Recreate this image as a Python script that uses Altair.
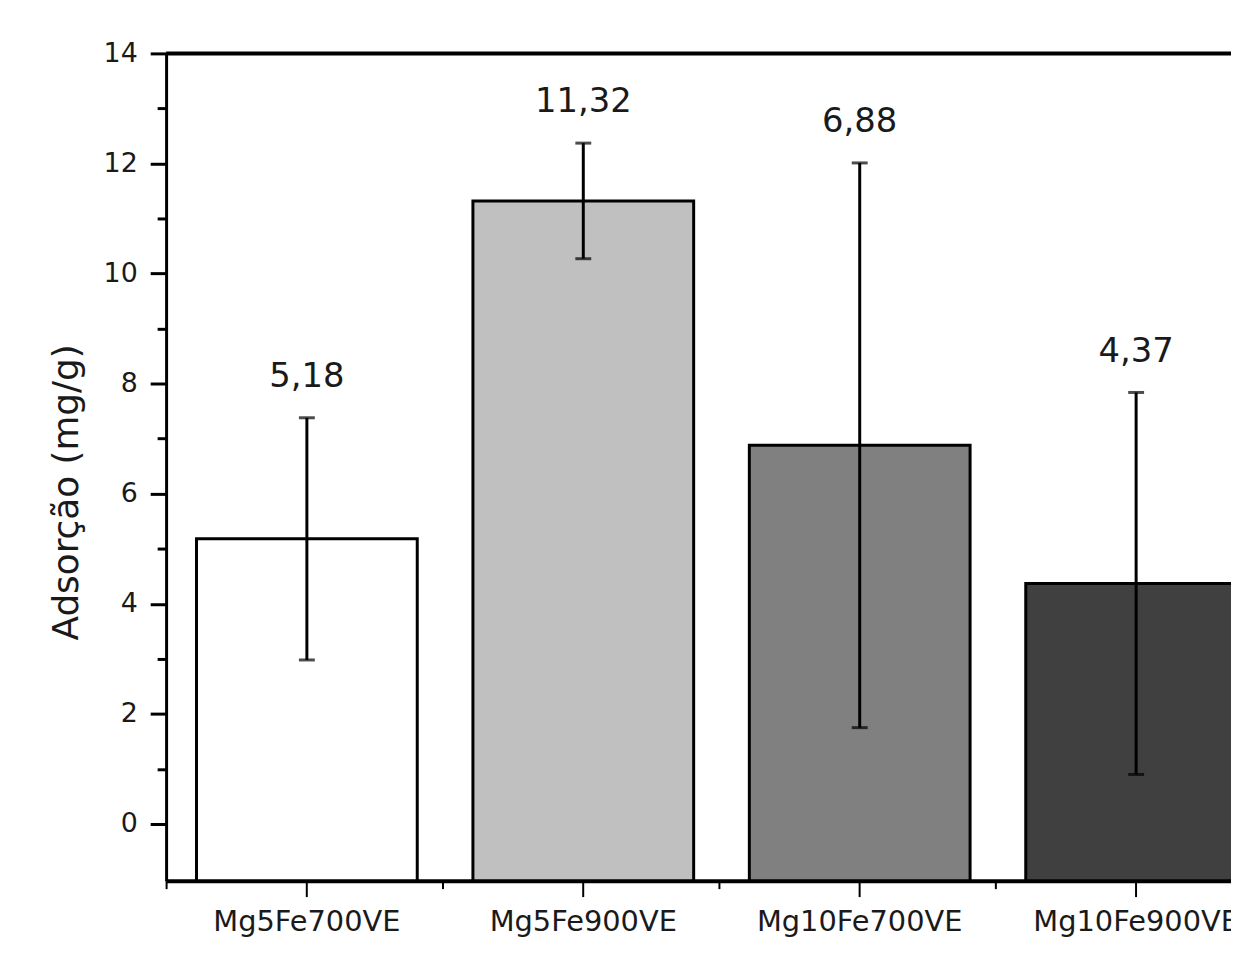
import altair as alt
import pandas as pd

categories = ["Mg5Fe700VE", "Mg5Fe900VE", "Mg10Fe700VE", "Mg10Fe900VE"]
values = [5.18, 11.32, 6.88, 4.37]
errors = [2.20, 1.05, 5.13, 3.47]
value_labels = ["5,18", "11,32", "6,88", "4,37"]
colors = ["#ffffff", "#c0c0c0", "#808080", "#404040"]
y_ticks = list(range(0, 15))
y_min, y_max = -1.03, 14
y_title = "Adsorção (mg/g)"

df = pd.DataFrame({"cat": categories, "value": values, "err": errors, "label": value_labels})
df["lower"] = df["value"] - df["err"]
df["upper"] = df["value"] + df["err"]
top_df = pd.DataFrame({"top": [y_max]})

FONT = "DejaVu Sans"
TXT = "#1a1a1a"

STEP = 278
P_IN = 0.2014
P_OUT = 0.11
xscale = alt.Scale(domain=categories, range=[0, STEP * (4 - P_IN + 2 * P_OUT)],
                   paddingInner=P_IN, paddingOuter=P_OUT)
yscale = alt.Scale(domain=[y_min, y_max], nice=False, zero=False)
cscale = alt.Scale(domain=categories, range=colors)

yaxis = alt.Axis(
    values=y_ticks,
    labelExpr="datum.value % 2 === 0 ? datum.label : ''",
    tickSize={"condition": {"test": "datum.value % 2 === 0", "value": 16}, "value": 9},
    tickWidth=3, tickColor="black",
    domainWidth=3, domainColor="black",
    labelFont=FONT, labelFontSize=27, labelColor=TXT, labelPadding=13,
    titleFont=FONT, titleFontSize=36, titleFontWeight="normal", titleColor=TXT,
    titleAngle=270, titleAlign="center", titleBaseline="middle",
    titleX=-100, titleY=441, grid=False,
)

xaxis_main = alt.Axis(
    orient="bottom", tickSize=16, tickWidth=2, tickColor="black",
    domainWidth=4, domainColor="black",
    labelFont=FONT, labelFontSize=29, labelColor=TXT, labelPadding=11, labelAngle=0,
    labelLimit=0,
)
xaxis_bound = alt.Axis(
    orient="bottom", bandPosition=0, tickOffset=-P_OUT * STEP, tickSize=8, tickWidth=2,
    tickColor="black", domain=False, labels=False,
)


def Y(field):
    return alt.Y(field, type="quantitative", scale=yscale, axis=yaxis, title=y_title)


def X(axis):
    if axis is None:
        return alt.X("cat:N", scale=xscale, axis=None, sort=categories)
    return alt.X("cat:N", scale=xscale, axis=axis, title=None, sort=categories)


base = alt.Chart(df)

bars = base.mark_bar(stroke="black", strokeWidth=3).encode(
    x=X(xaxis_main),
    y=Y("value"),
    y2=alt.datum(y_min),
    fill=alt.Fill("cat:N", scale=cscale, legend=None),
)

bound = base.mark_point(opacity=0).encode(x=X(xaxis_bound), y=Y("value"))

err_rule = base.mark_rule(color="black", strokeWidth=3).encode(
    x=X(None), y=Y("lower"), y2="upper"
)
cap_hi = base.mark_tick(color="black", size=16, thickness=3).encode(x=X(None), y=Y("upper"))
cap_lo = base.mark_tick(color="black", size=16, thickness=3).encode(x=X(None), y=Y("lower"))

text = base.mark_text(dy=-31, baseline="alphabetic", font=FONT, fontSize=34, color=TXT).encode(
    x=X(None), y=Y("upper"), text="label:N"
)

top_line = alt.Chart(top_df).mark_rule(color="black", strokeWidth=4).encode(y=Y("top"))

chart = (
    alt.layer(bars, bound, err_rule, cap_hi, cap_lo, text, top_line)
    .resolve_axis(x="independent")
    .properties(
        width=1071,
        height=832,
        autosize=alt.AutoSizeParams(type="none"),
        padding={"left": 159, "top": 43, "right": 0, "bottom": 55},
        background="white",
    )
    .configure_view(stroke=None)
)

chart.save("out.html", embed_options={"renderer": "svg", "actions": False})
